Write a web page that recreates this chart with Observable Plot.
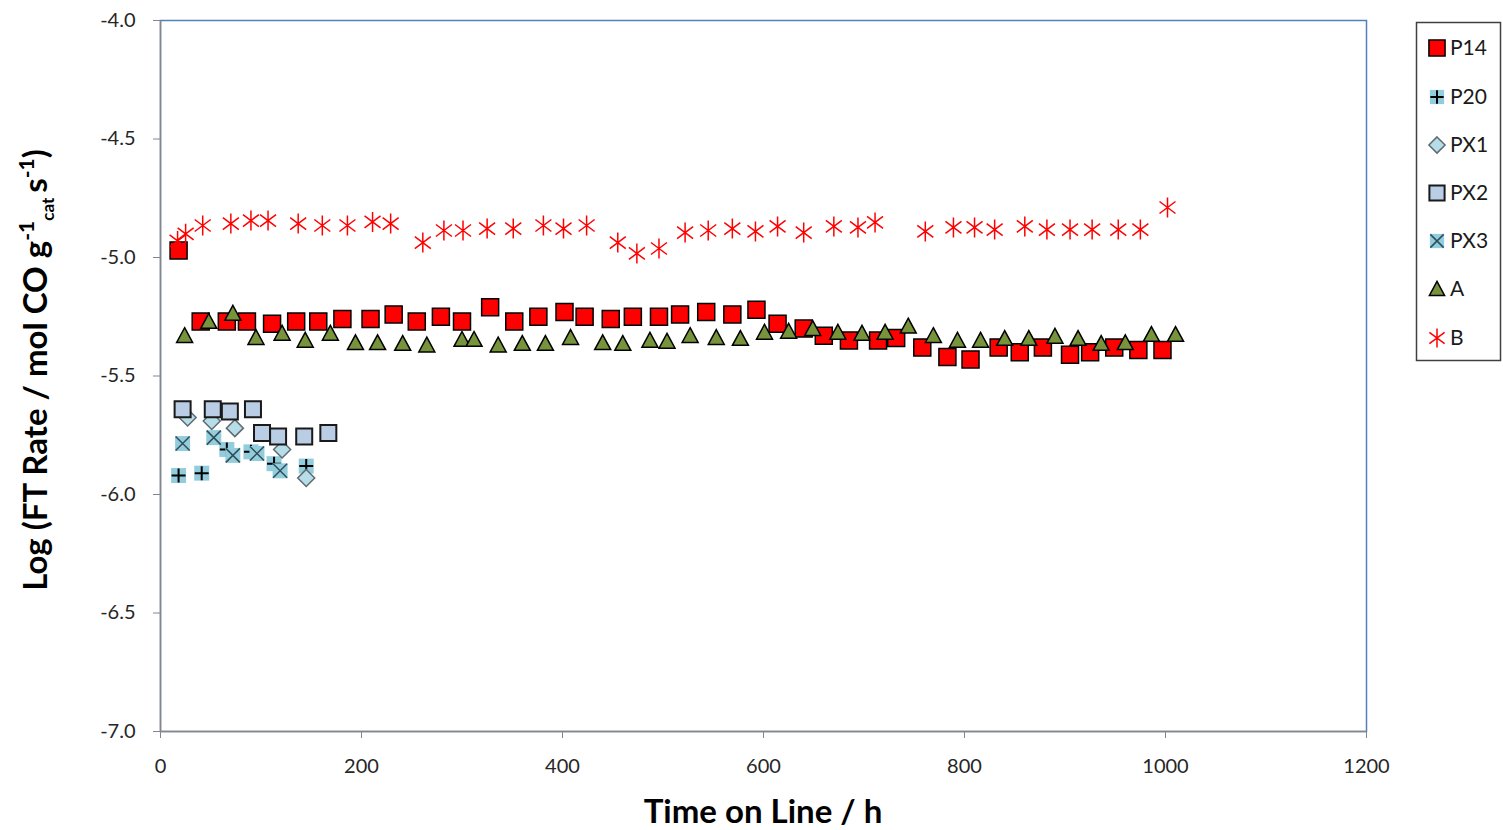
<!DOCTYPE html>
<html>
<head>
<meta charset="utf-8">
<script src="https://cdn.jsdelivr.net/npm/d3@7"></script>
<script src="https://cdn.jsdelivr.net/npm/@observablehq/plot@0.6"></script>
<style>
  html, body { margin: 0; padding: 0; background: #fff; }
  #chart svg { display: block; }
</style>
</head>
<body>
<div id="chart"></div>
<script>
// ---- data (time on line / h, log FT rate) ----
const p14 = [[18,-4.97],[40,-5.27],[66,-5.27],[86,-5.27],[111,-5.28],[135,-5.27],[157,-5.27],[181,-5.26],[209,-5.26],[232,-5.24],[255,-5.27],[279,-5.25],[300,-5.27],[328,-5.21],[352,-5.27],[376,-5.25],[402,-5.23],[422,-5.25],[448,-5.26],[470,-5.25],[496,-5.25],[517,-5.24],[543,-5.23],[569,-5.24],[593,-5.22],[614,-5.28],[640,-5.30],[660,-5.33],[685,-5.35],[714,-5.35],[732,-5.34],[758,-5.38],[783,-5.42],[806,-5.43],[834,-5.38],[855,-5.40],[878,-5.38],[905,-5.41],[925,-5.40],[949,-5.38],[973,-5.39],[997,-5.39]];
const p20 = [[18,-5.92],[41,-5.91],[66,-5.81],[90,-5.82],[113,-5.87],[145,-5.88]];
const px1 = [[27,-5.675],[51,-5.69],[74,-5.72],[121,-5.81],[145,-5.93]];
const px2 = [[22,-5.64],[52,-5.64],[69,-5.65],[92,-5.64],[101,-5.74],[117,-5.755],[143,-5.755],[167,-5.74]];
const px3 = [[22,-5.785],[53,-5.76],[72,-5.835],[96,-5.827],[119,-5.90]];
const seriesA = [[24,-5.33],[48,-5.27],[72,-5.236],[95,-5.338],[121,-5.32],[144,-5.35],[169,-5.32],[194,-5.36],[216,-5.36],[241,-5.363],[265,-5.37],[300,-5.346],[312,-5.346],[336,-5.37],[360,-5.363],[383,-5.363],[408,-5.338],[440,-5.36],[460,-5.363],[487,-5.35],[504,-5.354],[527,-5.33],[553,-5.338],[577,-5.342],[601,-5.316],[625,-5.312],[649,-5.30],[674,-5.316],[698,-5.32],[721,-5.316],[744,-5.29],[769,-5.33],[793,-5.35],[816,-5.35],[840,-5.342],[864,-5.342],[890,-5.333],[913,-5.342],[936,-5.363],[960,-5.36],[986,-5.325],[1010,-5.325]];
const seriesB = [[17,-4.93],[25,-4.90],[42,-4.865],[70,-4.857],[90,-4.844],[107,-4.844],[137,-4.857],[161,-4.865],[186,-4.865],[211,-4.85],[229,-4.857],[261,-4.937],[282,-4.886],[301,-4.886],[325,-4.878],[351,-4.878],[381,-4.865],[401,-4.878],[424,-4.865],[455,-4.937],[474,-4.983],[496,-4.962],[522,-4.895],[545,-4.886],[569,-4.878],[592,-4.89],[614,-4.869],[640,-4.895],[670,-4.869],[694,-4.873],[711,-4.852],[761,-4.89],[789,-4.873],[810,-4.873],[830,-4.882],[860,-4.869],[882,-4.882],[905,-4.882],[927,-4.882],[953,-4.882],[975,-4.882],[1002,-4.789]];
const seriesNames = ["P14","P20","PX1","PX2","PX3","A","B"];
const xTicks = [0,200,400,600,800,1000,1200];
const yTicks = [-7.0,-6.5,-6.0,-5.5,-5.0,-4.5,-4.0];

// ---- custom marker shapes (r = half width) ----
const R = s => Math.sqrt(s / Math.PI);
const square = {draw(c, s){const r=R(s); c.moveTo(-r,-r); c.lineTo(r,-r); c.lineTo(r,r); c.lineTo(-r,r); c.closePath();}};
const diamond = {draw(c, s){const r=R(s); c.moveTo(0,-r); c.lineTo(r,0); c.lineTo(0,r); c.lineTo(-r,0); c.closePath();}};
const triangle = {draw(c, s){const r=R(s); c.moveTo(0,-r); c.lineTo(r,r*0.85); c.lineTo(-r,r*0.85); c.closePath();}};
const plus = {draw(c, s){const r=R(s); c.moveTo(-r,0); c.lineTo(r,0); c.moveTo(0,-r); c.lineTo(0,r);}};
const cross = {draw(c, s){const r=R(s); c.moveTo(-r,-r); c.lineTo(r,r); c.moveTo(r,-r); c.lineTo(-r,r);}};
const aster = {draw(c, s){const r=R(s); c.moveTo(0,-r); c.lineTo(0,r); c.moveTo(-0.8*r,-0.6*r); c.lineTo(0.8*r,0.6*r); c.moveTo(0.8*r,-0.6*r); c.lineTo(-0.8*r,0.6*r);}};

const styles = {
  P14: [{symbol: square, r: 8.5, fill: "#ff0000", stroke: "#000", strokeWidth: 1.5}],
  P20: [{symbol: square, r: 7.5, fill: "#93cddd", stroke: "none"}, {symbol: plus, r: 7, fill: "none", stroke: "#000", strokeWidth: 2}],
  PX1: [{symbol: diamond, r: 8.5, fill: "#b7dee8", stroke: "#5f6b70", strokeWidth: 1.5}],
  PX2: [{symbol: square, r: 8, fill: "#b9cde5", stroke: "#1a1a1a", strokeWidth: 2}],
  PX3: [{symbol: square, r: 7.5, fill: "#93cddd", stroke: "none"}, {symbol: cross, r: 7, fill: "none", stroke: "#2f4f58", strokeWidth: 1.5}],
  A:   [{symbol: triangle, r: 8, fill: "#77933c", stroke: "#000", strokeWidth: 1.5}],
  B:   [{symbol: aster, r: 10, fill: "none", stroke: "#ff0000", strokeWidth: 1.5}]
};
const dataBy = {P14: p14, P20: p20, PX1: px1, PX2: px2, PX3: px3, A: seriesA, B: seriesB};

const dotMarks = [];
for (const name of seriesNames) {
  for (const st of styles[name]) {
    dotMarks.push(Plot.dot(dataBy[name], {x: d => d[0], y: d => d[1], ...st}));
  }
}

const font = "Lato, 'Open Sans', sans-serif";
const chart = Plot.plot({
  width: 1503, height: 830,
  marginLeft: 160, marginRight: 137, marginTop: 20, marginBottom: 99,
  style: {fontFamily: font, fontSize: "20px", color: "#262626", background: "#fff"},
  x: {domain: [0, 1200]},
  y: {domain: [-7, -4]},
  marks: [
    Plot.frame({stroke: "#4f81bd", strokeWidth: 1.5}),
    Plot.axisX({ticks: xTicks, tickSize: 7, tickPadding: 20, stroke: "#868686", label: null, tickFormat: d => String(d), fontSize: 20}),
    Plot.axisY({ticks: yTicks, tickSize: 7, tickPadding: 18, stroke: "#868686", label: null, tickFormat: d => d.toFixed(1), fontSize: 20}),
    Plot.ruleX([0], {stroke: "#868686", strokeWidth: 1.5}),
    Plot.ruleY([-7], {stroke: "#868686", strokeWidth: 1.5}),
    ...dotMarks
  ]
});
document.getElementById("chart").appendChild(chart);

// ---- axis titles ----
const svg = d3.select(chart);
svg.append("text")
  .attr("x", 763).attr("y", 823)
  .attr("text-anchor", "middle")
  .attr("font-family", font).attr("font-weight", "bold").attr("font-size", 33)
  .attr("fill", "#000")
  .text("Time on Line / h");

const yt = svg.append("text")
  .attr("transform", "translate(47,370) rotate(-90)")
  .attr("text-anchor", "middle")
  .attr("font-family", font).attr("font-weight", "bold").attr("font-size", 33)
  .attr("fill", "#000");
yt.append("tspan").text("Log (FT Rate / mol CO g");
yt.append("tspan").attr("dy", -13).attr("font-size", 21).text("-1");
yt.append("tspan").attr("dy", 20).attr("font-size", 17).text("cat");
yt.append("tspan").attr("dy", -7).attr("dx", -3).text(" s");
yt.append("tspan").attr("dy", -13).attr("font-size", 21).text("-1");
yt.append("tspan").attr("dy", 13).text(")");

// ---- legend ----
const lg = svg.append("g");
lg.append("rect").attr("x", 1416.5).attr("y", 22.5).attr("width", 84).attr("height", 338)
  .attr("fill", "#fff").attr("stroke", "#404040").attr("stroke-width", 1.5);
const rowY = [48, 97, 145, 193, 241, 289, 338];
seriesNames.forEach((name, i) => {
  const g = lg.append("g").attr("transform", `translate(1437,${rowY[i]})`);
  for (const st of styles[name]) {
    const rr = st.r * 0.95;
    g.append("path")
      .attr("d", d3.symbol(st.symbol, rr * rr * Math.PI)())
      .attr("fill", st.fill).attr("stroke", st.stroke)
      .attr("stroke-width", st.strokeWidth || 0);
  }
  lg.append("text").attr("x", 1450).attr("y", rowY[i] + 7)
    .attr("text-anchor", "start")
    .attr("font-family", font).attr("font-size", 21).attr("fill", "#1a1a1a")
    .text(name);
});
</script>
</body>
</html>
